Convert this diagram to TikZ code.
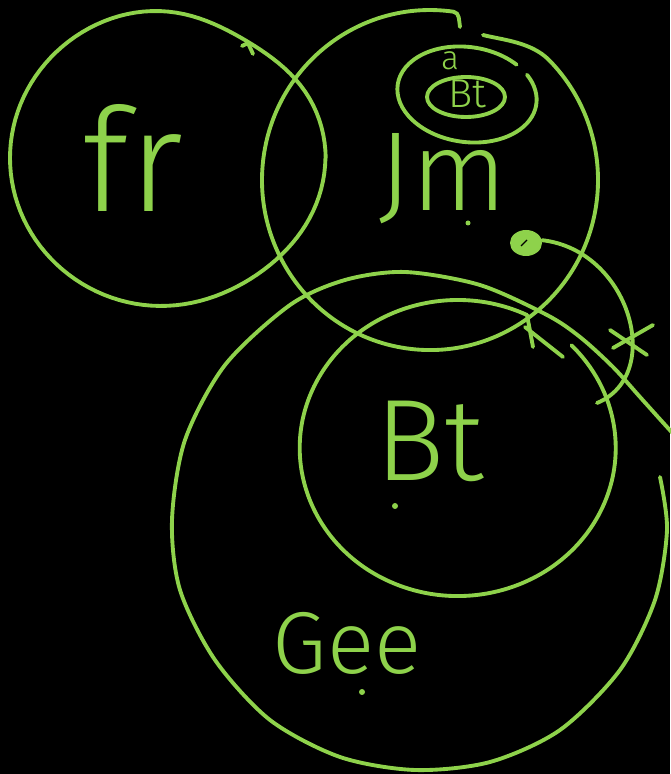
\documentclass[tikz,border=0pt]{standalone}
\usepackage{fontspec}
\usetikzlibrary{shapes.geometric}
\newfontfamily\handfont{Fira Sans Light}
\definecolor{chalk}{RGB}{142,210,75}
\begin{document}
\begin{tikzpicture}[x=0.2mm, y=0.2mm,
  stroke/.style={draw=chalk, line width=2.2pt, line cap=round, line join=round},
  hand/.style={text=chalk, inner sep=0pt, anchor=base},
  declare function={dent(\t)=1-0.075*exp(max(-20,-((\t-58)/30)*((\t-58)/30)))-0.04*exp(max(-20,-((\t-305)/35)*((\t-305)/35)));}]
\useasboundingbox (0,0) rectangle (670,774);
\fill[black] (0,0) rectangle (670,774);
\draw[stroke] plot[domain=0:360, samples=121, variable=\t] ({168+158*dent(\t)*cos(\t)}, {616+150*dent(\t)*sin(\t)});
\draw[stroke] (242,728) -- (248,731) -- (253,720);
\draw[stroke] (460,747) to[out=100,in=-8] (453.4,762.3) arc[start angle=82, end angle=405, x radius=33.6mm, y radius=34mm] .. controls (531,732) and (503,734) .. (483,739);
\draw[stroke, rotate around={-8:(467,679.5)}] (467,679.5) ++(50:14mm and 9.5mm) arc[start angle=50, end angle=396, x radius=14mm, y radius=9.5mm];
\draw[stroke] (466,677) ellipse [x radius=7.8mm, y radius=4mm];
\draw[stroke] (533,427) -- (527,459) arc[start angle=64, end angle=404, x radius=31.6mm, y radius=29.6mm];
\draw[stroke] (525,447) -- (563,417);
\draw[stroke] plot[smooth] coordinates {(660,297) (667,244) (655,174) (620,104) (560,44) (490,12) (415,4) (340,17) (270,54) (215,114) (180,184) (172,254) (185,334) (225,409) (290,469) (345,494) (405,502) (480,489) (547,459) (580,437) (613,407) (640,377) (667,347) (690,322)};

\node[hand, font=\handfont\fontsize{82}{82}\selectfont] (fr) at (133,562) {fr};
\node[hand, font=\handfont\fontsize{64}{64}\selectfont] (jm) at (443,563) {Jm};
\node[hand, font=\handfont\fontsize{19}{19}\selectfont] (a) at (450,704) {a};
\node[hand, font=\handfont\fontsize{23}{23}\selectfont] (btsmall) at (467,666) {Bt};
\node[hand, font=\handfont\fontsize{66}{66}\selectfont] (bt) at (430,293) {Bt};
\node[hand, font=\handfont\fontsize{50}{50}\selectfont] (gee) at (347,100) {Gee};
\fill[chalk] (468,551) circle [radius=0.5mm];
\fill[chalk] (395,268) circle [radius=0.6mm];
\fill[chalk] (362,82) circle [radius=0.6mm];

\node[fill=chalk, ellipse, minimum width=6.4mm, minimum height=5.2mm, inner sep=0pt] (blob) at (526,531) {};
\draw[black, line width=0.8pt] (521,528) -- (527,534);
\coordinate (tail) at (597,371);
\draw[stroke] (blob.10) .. controls (630,524) and (665,399) .. (tail);
\draw[stroke] (610,444) -- (647,419);
\draw[stroke] (613,426) -- (653,449);
\end{tikzpicture}
\end{document}
